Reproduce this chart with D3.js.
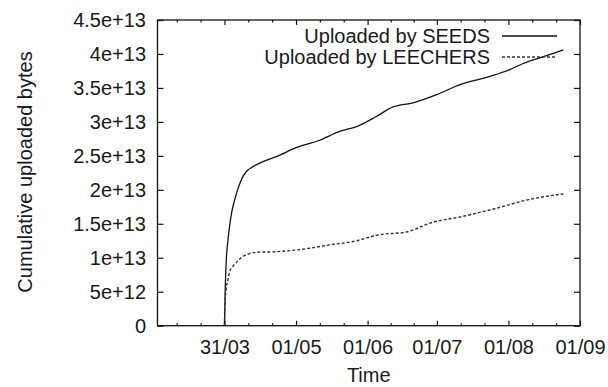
<!DOCTYPE html>
<html>
<head>
<title>Cumulative uploaded bytes</title>
<style>
  body { margin: 0; background: #fff; }
  text { font-family: "Liberation Sans", Arial, sans-serif; fill: #1a1a1a; }
</style>
</head>
<body>
<script src="https://d3js.org/d3.v7.min.js"></script>
<script>

var width = 608,
    height = 387,
    plotLeft = 157.5, plotRight = 580, plotTop = 20, plotBottom = 325.7,
    fontSize = 20;

// x = days after 1 March, y = cumulative uploaded bytes
var seedDays  = [30, 30.3, 30.8, 31.5, 32.2, 33.2, 34.4, 35.8, 37.3, 39.5, 42.3, 47, 52.5, 61.1, 71.2, 79.9, 87.2, 95.8, 103, 111.7, 121.9, 132, 145, 153.7, 159.4, 168.1, 176.8];
var seedBytes = [0, 0.5e13, 0.97e13, 1.25e13, 1.46e13, 1.68e13, 1.85e13, 2.01e13, 2.15e13, 2.27e13, 2.34e13, 2.42e13, 2.49e13, 2.62e13, 2.73e13, 2.86e13, 2.93e13, 3.08e13, 3.22e13, 3.28e13, 3.40e13, 3.55e13, 3.67e13, 3.77e13, 3.86e13, 3.96e13, 4.06e13];

var leechDays  = [30, 30.3, 30.7, 31.5, 32.2, 33.6, 35.7, 38, 43.8, 52.5, 66.9, 75.6, 85.7, 97.3, 108.9, 119, 133.4, 147.9, 162.3, 176.8];
var leechBytes = [0, 0.35e13, 0.53e13, 0.67e13, 0.79e13, 0.87e13, 0.95e13, 1.02e13, 1.08e13, 1.09e13, 1.14e13, 1.19e13, 1.24e13, 1.34e13, 1.38e13, 1.51e13, 1.61e13, 1.73e13, 1.86e13, 1.94e13];

var seriesNames = ["Uploaded by SEEDS", "Uploaded by LEECHERS"];

var xTickDays   = [30, 61, 92, 122, 153, 184];
var xTickLabels = ["31/03", "01/05", "01/06", "01/07", "01/08", "01/09"];

var yTicks      = [0, 5e12, 1e13, 1.5e13, 2e13, 2.5e13, 3e13, 3.5e13, 4e13, 4.5e13];
var yTickLabels = ["0", "5e+12", "1e+13", "1.5e+13", "2e+13", "2.5e+13", "3e+13", "3.5e+13", "4e+13", "4.5e+13"];

var x = d3.scaleLinear().domain([1, 184]).range([plotLeft, plotRight]);
var y = d3.scaleLinear().domain([0, 4.5e13]).range([plotBottom, plotTop]);

// minor x ticks: thirds of each labelled interval
var minorDays = [];
var step0 = (xTickDays[1] - xTickDays[0]) / 3;
for (var d = xTickDays[0] - step0; d > x.domain()[0]; d -= step0) minorDays.push(d);
for (var i = 0; i < xTickDays.length - 1; i++) {
    var a = xTickDays[i], b = xTickDays[i + 1];
    minorDays.push(a + (b - a) / 3, a + 2 * (b - a) / 3);
}

var svg = d3.select('body').append('svg')
    .attr('width', width)
    .attr('height', height);

svg.append('rect').attr('width', width).attr('height', height).attr('fill', '#fff');

function styleAxis(g) {
    g.select('.domain').remove();
    g.selectAll('line').attr('stroke', '#111').attr('stroke-width', 1.2);
    g.selectAll('text').style('font-size', fontSize + 'px').attr('fill', '#1a1a1a');
}

// bottom axis: labelled ticks
svg.append('g')
    .attr('transform', 'translate(0,' + plotBottom + ')')
    .call(d3.axisBottom(x).tickValues(xTickDays)
        .tickFormat(function (d, i) { return xTickLabels[i]; })
        .tickSize(-5).tickPadding(14))
    .call(styleAxis);

svg.append('g')
    .attr('transform', 'translate(0,' + plotBottom + ')')
    .call(d3.axisBottom(x).tickValues(minorDays).tickFormat('').tickSize(-2.5))
    .call(styleAxis);

// top axis mirrors
svg.append('g')
    .attr('transform', 'translate(0,' + plotTop + ')')
    .call(d3.axisTop(x).tickValues(xTickDays).tickFormat('').tickSize(-5))
    .call(styleAxis);
svg.append('g')
    .attr('transform', 'translate(0,' + plotTop + ')')
    .call(d3.axisTop(x).tickValues(minorDays).tickFormat('').tickSize(-2.5))
    .call(styleAxis);

// left / right axes
svg.append('g')
    .attr('transform', 'translate(' + plotLeft + ',0)')
    .call(d3.axisLeft(y).tickValues(yTicks)
        .tickFormat(function (d, i) { return yTickLabels[i]; })
        .tickSize(-6).tickPadding(11.5))
    .call(styleAxis);

svg.append('g')
    .attr('transform', 'translate(' + plotRight + ',0)')
    .call(d3.axisRight(y).tickValues(yTicks).tickFormat('').tickSize(-6))
    .call(styleAxis);

// frame
svg.append('rect')
    .attr('x', plotLeft).attr('y', plotTop)
    .attr('width', plotRight - plotLeft).attr('height', plotBottom - plotTop)
    .attr('fill', 'none').attr('stroke', '#111').attr('stroke-width', 1.3);

var line = d3.line()
    .x(function (d) { return x(d[0]); })
    .y(function (d) { return y(d[1]); })
    .curve(d3.curveMonotoneX);

var seeds = d3.zip(seedDays, seedBytes),
    leechers = d3.zip(leechDays, leechBytes);

svg.append('path')
    .datum(seeds)
    .attr('d', line)
    .attr('fill', 'none')
    .attr('stroke', '#111')
    .attr('stroke-width', 1.3);

svg.append('path')
    .datum(leechers)
    .attr('d', line)
    .attr('fill', 'none')
    .attr('stroke', '#333')
    .attr('stroke-width', 1.4)
    .attr('stroke-dasharray', '3,2');

// legend
var legend = svg.append('g');
[0, 1].forEach(function (k) {
    var by = 43 + k * 21;
    legend.append('text')
        .attr('x', 490).attr('y', by)
        .attr('text-anchor', 'end')
        .style('font-size', fontSize + 'px')
        .text(seriesNames[k]);
    legend.append('line')
        .attr('x1', 502).attr('x2', 557)
        .attr('y1', by - 7).attr('y2', by - 7)
        .attr('stroke', k ? '#333' : '#111')
        .attr('stroke-width', k ? 1.4 : 1.3)
        .attr('stroke-dasharray', k ? '3,2' : null);
});

// axis titles
svg.append('text')
    .attr('x', (plotLeft + plotRight) / 2).attr('y', 382)
    .attr('text-anchor', 'middle')
    .style('font-size', fontSize + 'px')
    .text('Time');

svg.append('text')
    .attr('transform', 'translate(32,172) rotate(-90)')
    .attr('text-anchor', 'middle')
    .style('font-size', fontSize + 'px')
    .text('Cumulative uploaded bytes');

</script>
</body>
</html>
